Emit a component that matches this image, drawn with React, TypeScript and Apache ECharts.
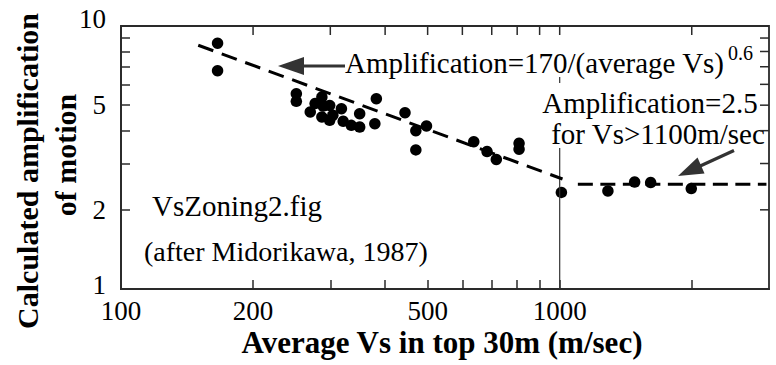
import React, { useEffect, useRef } from "react";
import * as echarts from "echarts";

// Measured data (average Vs in m/sec, calculated amplification)
const vsData = [166, 166, 251, 251, 270, 277, 287, 289, 287, 299, 304, 318, 299, 321, 335, 350, 350, 382, 379, 444, 470, 497, 470, 637, 683, 717, 808, 808, 1009, 1288, 1482, 1612, 1995];
const ampData = [8.6, 6.76, 5.53, 5.17, 4.71, 5.07, 5.37, 4.96, 4.51, 4.99, 4.58, 4.85, 4.38, 4.34, 4.19, 4.13, 4.64, 5.29, 4.25, 4.68, 4.0, 4.17, 3.38, 3.63, 3.33, 3.11, 3.58, 3.4, 2.33, 2.36, 2.55, 2.54, 2.41];

// Fitted relations (end points)
const slopeVs = [150, 1015];
const slopeAmp = [8.45, 2.62];
const flatVs = [1100, 2960];
const flatAmp = [2.5, 2.5];

// Vertical reference line at Vs = 1000 (visible parts)
const refVs = 1000;
const refLowAmp = [1, 3.44];
const refHighAmp = [6.07, 6.4];

// Axis ticks
const xMin = 100;
const xMax = 3000;
const yMin = 1;
const yMax = 10;
const xTickValues = [200, 300, 400, 500, 600, 700, 800, 900, 1000, 2000];
const xLabelValues = [100, 200, 500, 1000];
const yTickValues = [2, 3, 4, 5, 6, 7, 8, 9];
const yLabelValues = [1, 2, 5, 10];

const FONT = "Liberation Serif";
const AXIS_COLOR = "#2a2a2a";
const TICK_LEN = 9;

export default function App() {
  const ref = useRef<HTMLDivElement>(null);

  useEffect(() => {
    document.body.style.margin = "0";
    document.body.style.background = "#fff";
    if (!ref.current) return;
    const chart = echarts.init(ref.current, undefined, { renderer: "svg" });

    const tickStyle = { stroke: AXIS_COLOR, lineWidth: 1.5 };
    const txt = (text: string, x: number, y: number, size: number, align: string, rotation = 0, bold = false) => ({
      type: "text",
      x,
      y,
      rotation,
      style: {
        text,
        fontFamily: FONT,
        fontSize: size,
        fontWeight: bold ? "bold" : undefined,
        fill: "#000",
        align,
        verticalAlign: "middle",
      },
    });

    chart.setOption({
      animation: false,
      grid: {
        left: 121,
        top: 26,
        width: 648,
        height: 263,
        show: true,
        borderColor: AXIS_COLOR,
        borderWidth: 1.8,
      },
      xAxis: {
        type: "log",
        logBase: 10,
        min: xMin,
        max: xMax,
        axisLine: { show: true, onZero: false, lineStyle: { color: AXIS_COLOR, width: 1.8 } },
        axisTick: { show: true, inside: true, length: TICK_LEN, customValues: xTickValues, lineStyle: { color: AXIS_COLOR, width: 1.5 } },
        axisLabel: {
          customValues: xLabelValues,
          formatter: (v: number) => String(Math.round(v)),
          fontFamily: FONT,
          fontSize: 27,
          color: "#000",
          margin: 8,
        },
        splitLine: { show: false },
        minorTick: { show: false },
      },
      yAxis: {
        type: "log",
        logBase: 10,
        min: yMin,
        max: yMax,
        axisLine: { show: true, onZero: false, lineStyle: { color: AXIS_COLOR, width: 1.8 } },
        axisTick: { show: true, inside: true, length: TICK_LEN, customValues: yTickValues, lineStyle: { color: AXIS_COLOR, width: 1.5 } },
        axisLabel: {
          customValues: yLabelValues,
          formatter: (v: number) => {
            const s = String(Math.round(v));
            if (s === "10") return "{up|10}";
            if (s === "1") return "{low|1}";
            return s;
          },
          rich: {
            up: { fontFamily: FONT, fontSize: 27, color: "#000", padding: [0, 0, 14, 0] },
            low: { fontFamily: FONT, fontSize: 27, color: "#000", padding: [0, 0, 8, 0] },
          },
          fontFamily: FONT,
          fontSize: 27,
          color: "#000",
          margin: 15,
        },
        splitLine: { show: false },
        minorTick: { show: false },
      },
      series: [
        // top ticks (pointing inside)
        {
          type: "custom",
          data: xTickValues.map((v) => [v, yMax]),
          renderItem: (_p: any, api: any) => {
            const t = api.coord([api.value(0), yMax]);
            return { type: "line", shape: { x1: t[0], y1: t[1], x2: t[0], y2: t[1] + TICK_LEN }, style: tickStyle };
          },
        },
        // right ticks (pointing inside)
        {
          type: "custom",
          data: yTickValues.map((v) => [xMax, v]),
          renderItem: (_p: any, api: any) => {
            const r = api.coord([xMax, api.value(1)]);
            return { type: "line", shape: { x1: r[0], y1: r[1], x2: r[0] - TICK_LEN, y2: r[1] }, style: tickStyle };
          },
        },
        {
          type: "line",
          data: refLowAmp.map((a) => [refVs, a]),
          symbol: "none",
          lineStyle: { color: "#333", width: 1.2 },
        },
        {
          type: "line",
          data: refHighAmp.map((a) => [refVs, a]),
          symbol: "none",
          lineStyle: { color: "#333", width: 1.2 },
        },
        {
          type: "line",
          data: slopeVs.map((v, i) => [v, slopeAmp[i]]),
          symbol: "none",
          lineStyle: { color: "#000", width: 3, type: [16, 9] },
        },
        {
          type: "line",
          data: flatVs.map((v, i) => [v, flatAmp[i]]),
          symbol: "none",
          lineStyle: { color: "#000", width: 3, type: [15, 7.5] },
        },
        {
          type: "scatter",
          data: vsData.map((v, i) => [v, ampData[i]]),
          symbol: "circle",
          symbolSize: 11.5,
          itemStyle: { color: "#000", opacity: 1 },
        },
      ],
      graphic: [
        txt("Calculated amplification", 27, 171, 30, "center", Math.PI / 2, true),
        txt("of motion", 65, 155, 30, "center", Math.PI / 2, true),
        txt("Average Vs in top 30m (m/sec)", 442, 342, 31, "center", 0, true),
        txt("Amplification=170/(average Vs)", 345, 63, 29, "left"),
        txt("0.6", 728, 53, 20, "left"),
        txt("Amplification=2.5", 650, 103, 29, "center"),
        txt("for Vs>1100m/sec", 658, 134, 29, "center"),
        txt("VsZoning2.fig", 152, 206, 29, "left"),
        txt("(after Midorikawa, 1987)", 144, 251, 28, "left"),
        { type: "line", shape: { x1: 345, y1: 66, x2: 300, y2: 66 }, style: { stroke: "#333", lineWidth: 3.2 } },
        { type: "polygon", shape: { points: [[278, 66], [304, 57], [304, 75]] }, style: { fill: "#333" } },
        { type: "line", shape: { x1: 734, y1: 150.5, x2: 698, y2: 167 }, style: { stroke: "#333", lineWidth: 3.2 } },
        { type: "polygon", shape: { points: [[678, 176], [704.5, 173.5], [697.5, 157.5]] }, style: { fill: "#333" } },
      ],
    });

    return () => {
      chart.dispose();
    };
  }, []);

  return <div ref={ref} style={{ width: 776, height: 365 }} />;
}
